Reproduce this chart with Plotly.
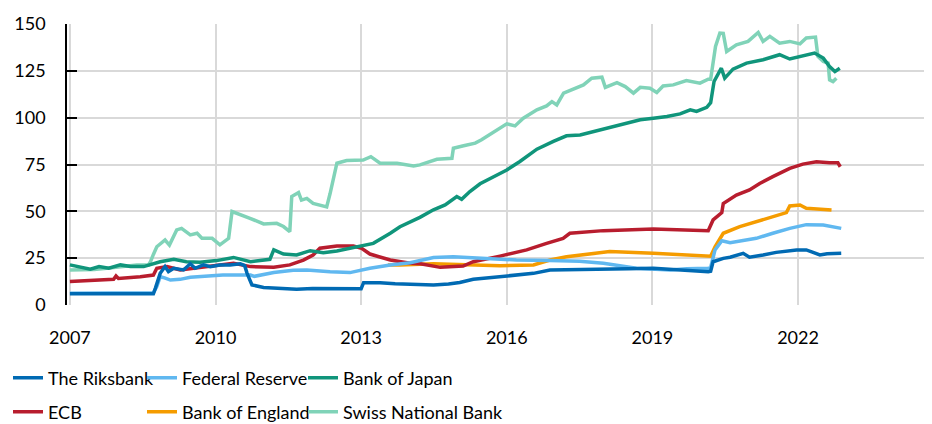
import plotly.graph_objects as go

# Central bank balance sheets, per cent of GDP
riksbank_x = [2007.00, 2007.50, 2008.00, 2008.40, 2008.72, 2008.76, 2008.86, 2008.96, 2009.03, 2009.14,
              2009.34, 2009.48, 2009.58, 2009.75, 2009.89, 2010.09, 2010.30, 2010.51, 2010.60, 2010.65,
              2010.75, 2010.99, 2011.30, 2011.67, 2012.00, 2012.36, 2012.70, 2013.00, 2013.05,
              2013.39, 2013.70, 2014.01, 2014.49, 2014.80, 2015.03, 2015.31, 2015.86, 2016.20, 2016.55,
              2016.89, 2017.50, 2017.99, 2018.50, 2019.02, 2019.40, 2019.71, 2020.15, 2020.20, 2020.25,
              2020.46, 2020.60, 2020.87, 2021.00, 2021.28, 2021.55, 2021.97, 2022.17, 2022.31, 2022.45,
              2022.60, 2022.89]
riksbank_y = [6.0, 6.1, 6.0, 6.2, 6.0, 8.9, 16.9, 20.5, 17.8, 19.6,
              18.7, 22.0, 19.6, 21.4, 20.5, 21.4, 21.4, 22.0, 21.0, 16.9,
              10.7, 9.4, 8.8, 8.4, 8.8, 8.7, 9.0, 8.7, 11.9,
              11.9, 11.3, 11.2, 10.7, 11.2, 12.0, 13.7, 15.1, 16.0, 16.9,
              18.7, 19.1, 19.1, 19.4, 19.6, 19.0, 18.3, 17.8, 18.0, 23.1,
              24.9, 25.5, 27.6, 25.5, 26.7, 28.1, 29.4, 29.4, 28.1, 26.7,
              27.4, 27.6]

fed_x = [2007.00, 2008.00, 2008.72, 2008.79, 2008.86, 2008.95, 2009.07, 2009.27, 2009.48, 2010.15,
         2010.72, 2010.80, 2011.20, 2011.60, 2011.88, 2012.36, 2012.77, 2013.18,
         2013.60, 2014.01, 2014.49, 2014.90, 2015.52, 2016.20, 2016.89, 2017.50, 2017.99, 2018.67,
         2019.36, 2019.71, 2020.15, 2020.20, 2020.29, 2020.43, 2020.60, 2021.14, 2021.48, 2021.83,
         2022.17, 2022.52, 2022.89]
fed_y = [6.3, 6.4, 6.5, 9.8, 15.1, 14.5, 13.3, 13.7, 14.8, 16.0,
         16.0, 15.3, 17.3, 18.5, 18.7, 17.8, 17.3, 19.6,
         21.4, 22.6, 25.3, 25.8, 24.8, 24.0, 23.7, 23.4, 22.3, 19.6,
         18.7, 19.4, 19.6, 20.0, 29.4, 34.3, 33.3, 35.6, 38.3, 40.9,
         42.9, 42.7, 40.9]

boj_x = [2007.00, 2007.20, 2007.42, 2007.60, 2007.80, 2008.04, 2008.25, 2008.52, 2008.72, 2008.86,
         2009.14, 2009.40, 2009.68, 2010.02, 2010.37, 2010.72, 2011.12, 2011.20,
         2011.40, 2011.67, 2011.95, 2012.22, 2012.50, 2012.91, 2013.25, 2013.60, 2013.80, 2014.21,
         2014.49, 2014.73, 2014.97, 2015.07, 2015.24, 2015.45, 2015.72, 2016.00, 2016.27, 2016.62,
         2016.96, 2017.23, 2017.51, 2017.92, 2018.20, 2018.47, 2018.75, 2019.02, 2019.30, 2019.57,
         2019.78, 2019.91, 2020.12, 2020.20, 2020.27,
         2020.42, 2020.49, 2020.66, 2020.94, 2021.28, 2021.62, 2021.83, 2022.10, 2022.34, 2022.52,
         2022.65, 2022.76, 2022.86]
boj_y = [21.4, 20.1, 19.1, 20.5, 19.6, 21.4, 20.5, 20.5, 22.0, 23.1,
         24.4, 23.1, 22.8, 23.7, 25.4, 23.1, 24.4, 29.4,
         27.2, 26.7, 29.0, 27.9, 28.8, 30.8, 32.9, 38.3, 41.8, 46.8,
         50.8, 53.4, 57.9, 56.4, 60.6, 64.7, 68.5, 72.1, 76.6, 83.2,
         87.3, 90.3, 90.8, 93.5, 95.3, 97.4, 98.9, 99.7, 100.6, 102.0,
         104.2, 103.3, 105.5, 108.0, 119.3,
         126.4, 121.1, 125.9, 129.1, 130.9, 133.6, 131.3, 133.1, 134.5, 131.8,
         127.3, 124.6, 126.4]

ecb_x = [2007.00, 2007.50, 2007.90, 2007.95, 2008.00, 2008.45, 2008.72, 2008.79, 2009.00, 2009.27,
         2009.82, 2010.37, 2010.72, 2011.20, 2011.53, 2011.81, 2012.01, 2012.15,
         2012.50, 2012.84, 2013.01, 2013.18, 2013.60, 2014.01, 2014.22, 2014.63, 2015.10, 2015.31,
         2015.86, 2016.41, 2016.82, 2017.16, 2017.30, 2017.99, 2019.02, 2019.71, 2020.15, 2020.25,
         2020.43, 2020.46, 2020.73, 2021.00, 2021.21, 2021.48, 2021.83, 2022.10, 2022.38, 2022.65,
         2022.82, 2022.87]
ecb_y = [12.5, 13.0, 13.7, 15.5, 14.2, 15.1, 16.0, 19.6, 20.5, 18.7,
         20.5, 22.3, 20.5, 20.1, 21.4, 24.0, 26.7, 30.3,
         31.5, 31.5, 30.3, 27.2, 24.0, 22.3, 22.0, 20.1, 20.8, 23.1,
         26.1, 29.4, 32.9, 35.6, 38.3, 39.7, 40.6, 40.1, 39.7, 45.4,
         49.3, 54.2, 58.7, 61.4, 64.9, 68.5, 72.9, 75.2, 76.5, 76.0,
         76.0, 73.8]

boe_x = [2013.55, 2013.80, 2014.49, 2015.17, 2015.86, 2016.55, 2016.70, 2016.89, 2017.23, 2017.50,
         2018.12, 2019.02, 2019.71, 2020.15, 2020.20, 2020.29, 2020.46, 2020.80, 2021.14, 2021.48,
         2021.76, 2021.83, 2022.04, 2022.17, 2022.38, 2022.69]
boe_y = [21.4, 21.4, 22.0, 21.4, 21.0, 21.4, 22.5, 24.0, 25.8, 26.7,
         28.5, 27.6, 26.7, 25.8, 26.0, 31.1, 38.3, 41.8, 44.5, 47.2,
         49.3, 52.9, 53.4, 51.6, 51.1, 50.7]

snb_x = [2007.00, 2007.50, 2007.76, 2008.38, 2008.62, 2008.66, 2008.72, 2008.79, 2008.96, 2009.05,
         2009.20, 2009.30, 2009.48, 2009.62, 2009.72, 2009.93, 2010.09, 2010.27, 2010.34,
         2010.44, 2010.71, 2010.99, 2011.26, 2011.40, 2011.53, 2011.57, 2011.71, 2011.77, 2011.88,
         2012.01, 2012.29, 2012.36, 2012.43, 2012.50, 2012.70, 2013.04, 2013.20, 2013.39, 2013.74,
         2014.08, 2014.21, 2014.56, 2014.87, 2014.90, 2015.11, 2015.35, 2015.48, 2015.79, 2016.00,
         2016.17, 2016.34, 2016.62, 2016.82, 2016.93, 2017.03, 2017.17, 2017.44, 2017.58, 2017.75,
         2017.96, 2018.03, 2018.27, 2018.44, 2018.61, 2018.75, 2018.95, 2019.09, 2019.22, 2019.43,
         2019.70, 2019.98, 2020.15, 2020.20, 2020.30, 2020.39,
         2020.46, 2020.53, 2020.73, 2020.97, 2021.18, 2021.28, 2021.42, 2021.62, 2021.83, 2022.04,
         2022.17, 2022.36, 2022.41, 2022.52, 2022.62, 2022.65, 2022.72, 2022.79]
snb_y = [18.7, 18.9, 19.6, 21.4, 21.4, 23.1, 27.0, 31.1, 34.7, 32.0,
         40.1, 40.9, 37.4, 38.3, 35.6, 35.6, 32.1, 35.6, 49.9,
         49.0, 46.3, 43.3, 43.6, 41.9, 39.2, 57.9, 60.0, 56.0, 56.9,
         54.2, 52.4, 59.5, 68.6, 75.7, 77.1, 77.4, 79.2, 75.7, 75.7,
         74.2, 74.8, 77.8, 78.3, 83.7, 85.0, 86.4, 88.2, 93.5, 96.7,
         95.6, 99.7, 104.2, 106.3, 108.6, 106.8, 113.1, 115.7, 117.5, 121.1,
         121.6, 116.2, 118.7, 116.6, 113.1, 116.2, 115.7, 113.4, 116.9, 117.5,
         119.8, 118.4, 120.5, 120.5, 138.0, 145.1,
         145.0, 135.3, 138.9, 140.7, 145.5, 140.7, 143.4, 139.8, 140.7, 139.4,
         142.5, 143.0, 132.7, 130.0, 129.1, 120.2, 119.3, 121.1]

tick_years = [2007, 2010, 2013, 2016, 2019, 2022]
tick_labels = ["2007", "2010", "2013", "2016", "2019", "2022"]

FONT = "Lato, 'Noto Sans', sans-serif"

# the page body adds an 8px margin, so the figure is 8px smaller than the window
W, H = 924, 416

# drawn back to front; legend rows are set by legend / legend2
series = [
    ("Swiss National Bank", snb_x, snb_y, "#80D3B8", "legend2", 3, None),
    ("Bank of England", boe_x, boe_y, "#F59C00", "legend2", 2, 116),
    ("ECB", ecb_x, ecb_y, "#B81D2E", "legend2", 1, 89),
    ("Bank of Japan", boj_x, boj_y, "#10957B", "legend", 3, None),
    ("Federal Reserve", fed_x, fed_y, "#60B8F0", "legend", 2, 116),
    ("The Riksbank", riksbank_x, riksbank_y, "#006AB3", "legend", 1, 89),
]

fig = go.Figure()
for name, xs, ys, color, leg, rank, lw in series:
    fig.add_trace(go.Scatter(
        x=xs, y=ys, name=name, mode="lines",
        line=dict(color=color, width=3.5),
        legend=leg, legendrank=rank, legendwidth=lw,
    ))

legend_style = dict(
    orientation="h", xref="container", yref="container",
    x=0, xanchor="left", yanchor="middle",
    font=dict(family=FONT, size=18, color="#000000"),
    bgcolor="rgba(0,0,0,0)", traceorder="normal",
)

fig.update_layout(
    width=W, height=H,
    template="plotly_white",
    plot_bgcolor="white", paper_bgcolor="white",
    margin=dict(l=59, r=0, t=16, b=119),
    font=dict(family=FONT, size=18, color="#000000"),
    showlegend=True,
    legend=dict(legend_style, y=1 - 370 / H),
    legend2=dict(legend_style, y=1 - 404 / H),
    xaxis=dict(
        range=[2006.94, 2024.76],
        tickvals=tick_years, ticktext=tick_labels,
        showgrid=True, gridcolor="#D9D9D9", gridwidth=1.5,
        zeroline=False, showline=False, ticks="",
        ticklabelstandoff=20,
    ),
    yaxis=dict(
        range=[0, 150], dtick=25,
        showgrid=True, gridcolor="#D9D9D9", gridwidth=1.5,
        zeroline=False, showline=True, linecolor="#000000", linewidth=1.5,
        ticks="inside", ticklen=10, tickcolor="#000000", tickwidth=1.5,
        ticklabelstandoff=16,
    ),
)

fig.write_html("out.html")
